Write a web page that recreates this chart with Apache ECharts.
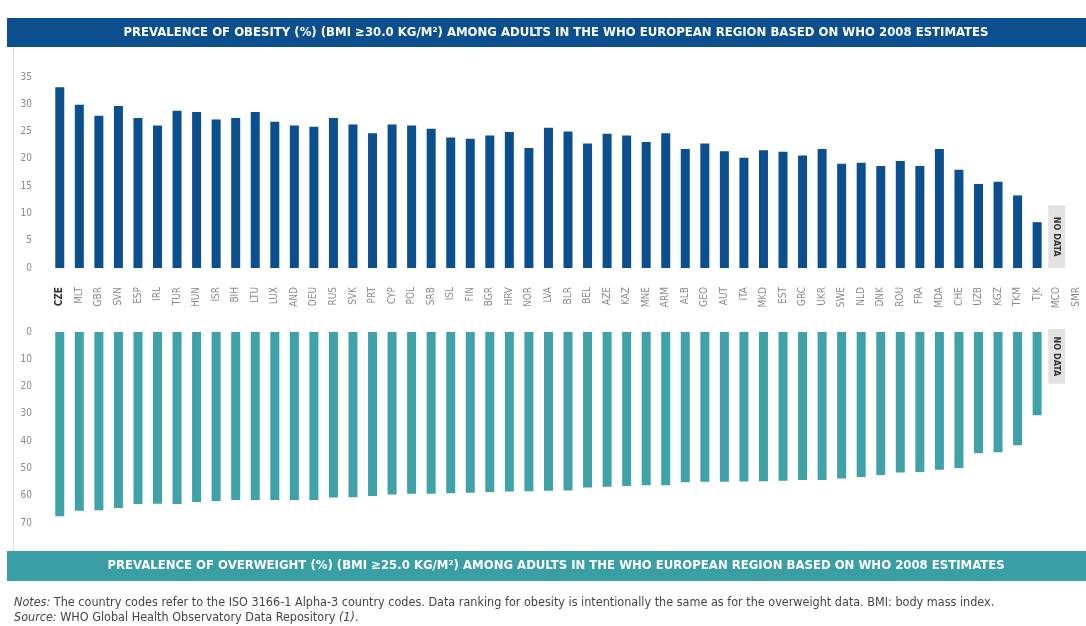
<!DOCTYPE html>
<html><head><meta charset="utf-8">
<script src="https://cdn.jsdelivr.net/npm/echarts@6/dist/echarts.min.js"></script>
<style>html,body{margin:0;padding:0;background:#fff}#c{width:1086px;height:626px}</style>
</head><body><div id="c"></div>
<script>
const categories = ['CZE','MLT','GBR','SVN','ESP','IRL','TUR','HUN','ISR','BIH','LTU','LUX','AND','DEU','RUS','SVK','PRT','CYP','POL','SRB','ISL','FIN','BGR','HRV','NOR','LVA','BLR','BEL','AZE','KAZ','MNE','ARM','ALB','GEO','AUT','ITA','MKD','EST','GRC','UKR','SWE','NLD','DNK','ROU','FRA','MDA','CHE','UZB','KGZ','TKM','TJK','MCO','SMR'];
const obesity = [33.1,29.9,27.9,29.7,27.5,26.1,28.8,28.6,27.2,27.5,28.6,26.8,26.1,25.9,27.5,26.3,24.7,26.3,26.1,25.5,23.9,23.7,24.3,24.9,22.0,25.7,25.0,22.8,24.6,24.3,23.1,24.7,21.8,22.8,21.4,20.2,21.6,21.3,20.6,21.8,19.1,19.3,18.7,19.6,18.7,21.8,18.0,15.4,15.8,13.3,8.4,null,null];
const overweight = [67.5,65.5,65.3,64.5,63.0,62.9,63.0,62.3,61.9,61.6,61.6,61.6,61.6,61.6,60.7,60.6,60.1,59.6,59.3,59.3,59.1,58.9,58.6,58.5,58.4,58.2,58.1,57.0,56.7,56.4,56.2,56.2,55.1,54.9,54.9,54.8,54.7,54.5,54.2,54.2,53.7,53.1,52.4,51.5,51.3,50.5,49.8,44.4,44.1,41.5,30.5,null,null];
const obesityTicks = [0,5,10,15,20,25,30,35];
const overweightTicks = [0,10,20,30,40,50,60,70];
const noDataCategory = 'MCO';
const topTitle = 'PREVALENCE OF OBESITY (%) (BMI \u226530.0 KG/M\u00B2) AMONG ADULTS IN THE WHO EUROPEAN REGION BASED ON WHO 2008 ESTIMATES';
const bottomTitle = 'PREVALENCE OF OVERWEIGHT (%) (BMI \u226525.0 KG/M\u00B2) AMONG ADULTS IN THE WHO EUROPEAN REGION BASED ON WHO 2008 ESTIMATES';

const FONT = '"Liberation Sans Narrow","DejaVu Sans Condensed","Roboto Condensed",sans-serif';
const chart = echarts.init(document.getElementById('c'), null, {renderer:'canvas'});
const option = {
  animation:false,
  backgroundColor:'#fff',
  grid:[
    {left:50, top:77, width:1044, height:191, containLabel:false},
    {left:50, top:332, width:1044, height:191, containLabel:false}
  ],
  xAxis:[
    {type:'category', gridIndex:0, data:categories, axisLine:{show:false}, axisTick:{show:false},
     axisLabel:{interval:0, rotate:90, margin:19, fontFamily:FONT, fontSize:10, color:'#8a8a8a',
       formatter:(v)=> v==='CZE' ? '{b|'+v+'}' : v,
       rich:{b:{fontFamily:FONT, fontSize:10, fontWeight:'bold', color:'#333'}}}},
    {type:'category', gridIndex:1, data:categories, show:false}
  ],
  yAxis:[
    {type:'value', gridIndex:0, min:obesityTicks[0], max:obesityTicks[obesityTicks.length-1], interval:5,
     axisLine:{show:false}, axisTick:{show:false}, splitLine:{show:false},
     axisLabel:{margin:18, fontFamily:FONT, fontSize:10, color:'#8a8a8a'}},
    {type:'value', gridIndex:1, inverse:true, min:overweightTicks[0], max:overweightTicks[overweightTicks.length-1], interval:10,
     axisLine:{show:false}, axisTick:{show:false}, splitLine:{show:false},
     axisLabel:{margin:18, fontFamily:FONT, fontSize:10, color:'#8a8a8a'}}
  ],
  series:[
    {name:'Obesity', type:'bar', xAxisIndex:0, yAxisIndex:0, data:obesity, barWidth:9,
     itemStyle:{color:'#0b4f8e'}},
    {name:'Overweight', type:'bar', xAxisIndex:1, yAxisIndex:1, data:overweight, barWidth:9,
     itemStyle:{color:'#3ea2a8'}}
  ]
};
chart.setOption(option);

function build(){
  const topBox = chart.convertToPixel({gridIndex:0}, [noDataCategory, 0]);
  const topBoxTop = chart.convertToPixel({gridIndex:0}, [noDataCategory, 11.5]);
  const botBox = chart.convertToPixel({gridIndex:1}, [noDataCategory, 0]);
  const botBoxEnd = chart.convertToPixel({gridIndex:1}, [noDataCategory, 19]);
  const bw = 17;
  const g = [
    {type:'rect', shape:{x:7,y:18,width:1079,height:29}, style:{fill:'#0b4f8e'}},
    {type:'text', x:556, y:33, style:{text:topTitle, fill:'#fff', font:'bold 13px '+FONT, align:'center', verticalAlign:'middle'}},
    {type:'rect', shape:{x:7,y:551,width:1079,height:30}, style:{fill:'#3a9ea5'}},
    {type:'text', x:556, y:566, style:{text:bottomTitle, fill:'#fff', font:'bold 13px '+FONT, align:'center', verticalAlign:'middle'}},
    {type:'rect', shape:{x:13,y:47,width:1,height:504}, style:{fill:'#d8d8d8'}},
    {type:'rect', shape:{x:topBox[0]-bw/2, y:topBoxTop[1], width:bw, height:topBox[1]-topBoxTop[1]}, style:{fill:'#e2e2e2'}},
    {type:'text', x:topBox[0], y:(topBox[1]+topBoxTop[1])/2, rotation:-Math.PI/2,
     style:{text:'NO DATA', fill:'#333', font:'bold 9px '+FONT, align:'center', verticalAlign:'middle'}},
    {type:'rect', shape:{x:botBox[0]-bw/2, y:botBox[1]-3, width:bw, height:botBoxEnd[1]-botBox[1]+3}, style:{fill:'#e2e2e2'}},
    {type:'text', x:botBox[0], y:(botBox[1]-3+botBoxEnd[1])/2, rotation:-Math.PI/2,
     style:{text:'NO DATA', fill:'#333', font:'bold 9px '+FONT, align:'center', verticalAlign:'middle'}},
    {type:'text', x:14, y:603, style:{
      text:'{i|Notes:} The country codes refer to the ISO 3166-1 Alpha-3 country codes. Data ranking for obesity is intentionally the same as for the overweight data. BMI: body mass index.',
      font:'12.5px '+FONT, fill:'#444', verticalAlign:'middle',
      rich:{i:{fontStyle:'italic', fontFamily:FONT, fontSize:12.5, fill:'#444'}}}},
    {type:'text', x:14, y:618, style:{
      text:'{i|Source:} WHO Global Health Observatory Data Repository {i|(1)}.',
      font:'12.5px '+FONT, fill:'#444', verticalAlign:'middle',
      rich:{i:{fontStyle:'italic', fontFamily:FONT, fontSize:12.5, fill:'#444'}}}}
  ];
  chart.setOption({graphic:g});
}
build();
</script></body></html>
